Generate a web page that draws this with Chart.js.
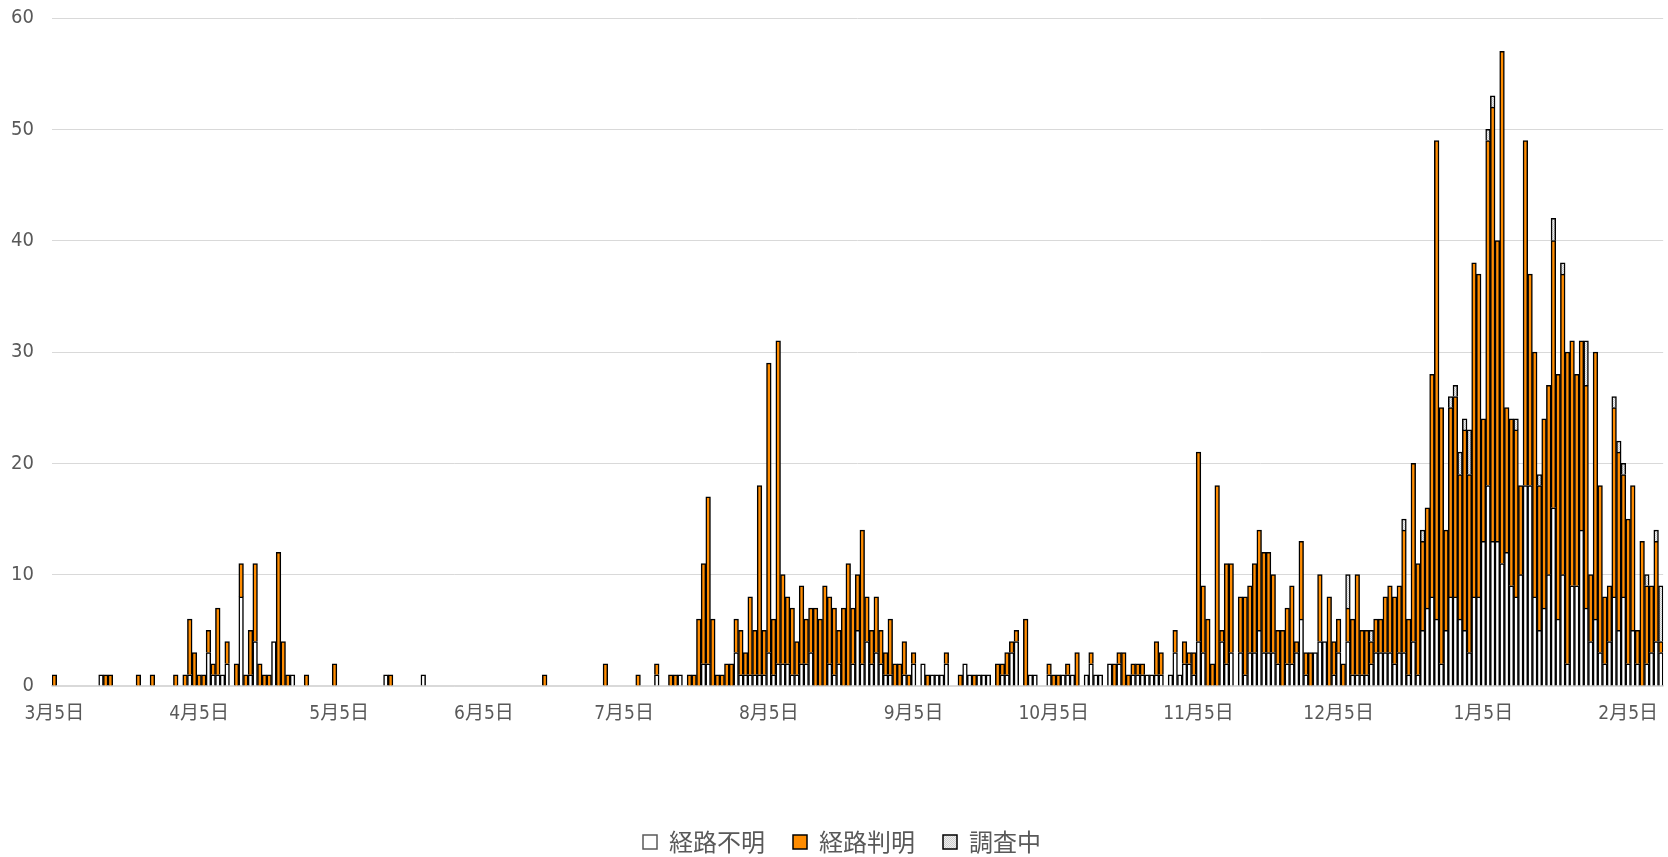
<!DOCTYPE html>
<html lang="ja">
<head>
<meta charset="utf-8">
<title>感染経路別 新規陽性者数</title>
<script src="https://cdn.jsdelivr.net/npm/chart.js@4.4.1/dist/chart.umd.min.js"></script>
<style>
  html, body { margin: 0; padding: 0; background: #fff; overflow: hidden; }
  #wrap { position: relative; width: 1668px; height: 864px; }
</style>
</head>
<body>
<div id="wrap"><canvas id="casesChart"></canvas></div>
<script>
// first day on the axis; one bar per day from here
const startYear = 2020, startMonth = 3, startDay = 5;

// 経路不明 (white, bottom of stack) - one row per month, Mar 5 .. Feb 12
const unknownCases = [
  0,0,0,0,0,0,0,0,0,0,1,0,0,0,0,0,0,0,0,0,0,0,0,0,0,0,0,                   // Mar 5-31
  0,0,1,0,0,0,3,1,1,1,2,0,0,8,0,1,4,0,0,0,4,0,0,0,1,0,0,0,0,0,             // Apr
  0,0,0,0,0,0,0,0,0,0,0,0,0,0,1,0,0,0,0,0,0,0,1,0,0,0,0,0,0,0,0,           // May
  0,0,0,0,0,0,0,0,0,0,0,0,0,0,0,0,0,0,0,0,0,0,0,0,0,0,0,0,0,0,             // Jun
  0,0,0,0,0,0,0,0,0,0,0,1,0,0,0,0,1,0,0,0,0,2,2,0,0,0,0,0,3,1,1,           // Jul
  1,1,1,1,3,1,2,2,2,1,1,2,2,3,0,0,0,2,1,2,0,0,2,5,2,4,2,3,2,1,1,           // Aug
  0,0,1,0,2,0,2,0,1,1,1,2,0,0,0,2,1,0,1,1,1,0,0,1,1,3,4,0,0,1,             // Sep
  1,0,0,1,0,0,1,1,1,0,0,1,2,1,1,0,2,0,2,0,0,1,1,1,1,1,1,1,0,1,3,           // Oct
  1,2,2,1,4,3,0,0,0,4,2,3,0,3,1,3,3,5,3,3,3,2,0,2,2,3,6,1,0,3,             // Nov
  4,4,0,1,3,0,4,1,1,1,1,2,3,3,3,3,2,3,3,1,4,1,5,7,8,6,2,5,8,8,6,           // Dec
  5,3,8,8,13,18,13,13,11,12,9,8,10,18,18,8,5,7,10,16,6,10,2,9,9,14,7,4,6,3,2, // Jan
  4,8,5,8,2,5,2,0,2,3,4,3                                                  // Feb 1-12
];

// 経路判明 (orange)
const linkedCases = [
  1,0,0,0,0,0,0,0,0,0,0,1,1,0,0,0,0,0,1,0,0,1,0,0,0,0,1,
  0,1,5,3,1,1,2,1,6,0,2,0,2,3,1,4,7,2,1,1,0,12,4,1,0,0,0,1,0,0,
  0,0,0,2,0,0,0,0,0,0,0,0,0,0,0,1,0,0,0,0,0,0,0,0,0,0,0,0,0,0,0,
  0,0,0,0,0,0,0,0,0,0,0,0,0,0,0,0,0,1,0,0,0,0,0,0,0,0,0,0,0,0,
  2,0,0,0,0,0,0,1,0,0,0,1,0,0,1,1,0,0,1,1,6,9,15,6,1,1,2,2,3,4,2,
  7,4,17,4,26,5,29,8,6,6,3,7,4,4,7,6,9,6,6,3,7,11,5,5,12,4,3,5,3,2,5,
  2,2,3,1,1,0,0,1,0,0,0,1,0,0,1,0,0,1,0,0,0,0,2,1,2,1,1,0,6,0,
  0,0,0,1,1,1,0,1,0,3,0,0,1,0,0,0,0,2,1,3,1,1,1,1,0,0,3,2,0,0,2,
  0,2,1,2,17,6,6,2,18,1,9,8,0,5,7,6,8,9,9,9,7,3,5,5,7,1,7,2,3,0,
  6,0,8,3,3,2,3,5,9,4,4,2,3,3,5,6,6,6,11,5,16,10,8,9,20,43,23,9,17,18,13,
  18,16,30,29,11,31,39,27,46,13,15,15,8,31,19,22,13,17,17,24,22,27,28,22,19,17,20,6,24,15,6,
  5,17,16,11,13,13,3,13,7,6,9,1
];

// 調査中 (light grey, top of stack)
const pendingCases = [
  0,0,0,0,0,0,0,0,0,0,0,0,0,0,0,0,0,0,0,0,0,0,0,0,0,0,0,
  0,0,0,0,0,0,0,0,0,0,0,0,0,0,0,0,0,0,0,0,0,0,0,0,0,0,0,0,0,0,
  0,0,0,0,0,0,0,0,0,0,0,0,0,0,0,0,0,0,0,0,0,0,0,0,0,0,0,0,0,0,0,
  0,0,0,0,0,0,0,0,0,0,0,0,0,0,0,0,0,0,0,0,0,0,0,0,0,0,0,0,0,0,
  0,0,0,0,0,0,0,0,0,0,0,0,0,0,0,0,0,0,0,0,0,0,0,0,0,0,0,0,0,0,0,
  0,0,0,0,0,0,0,0,0,0,0,0,0,0,0,0,0,0,0,0,0,0,0,0,0,0,0,0,0,0,0,
  0,0,0,0,0,0,0,0,0,0,0,0,0,0,0,0,0,0,0,0,0,0,0,0,0,0,0,0,0,0,
  0,0,0,0,0,0,0,0,0,0,0,0,0,0,0,0,0,0,0,0,0,0,0,0,0,0,0,0,0,0,0,
  0,0,0,0,0,0,0,0,0,0,0,0,0,0,0,0,0,0,0,0,0,0,0,0,0,0,0,0,0,0,
  0,0,0,0,0,0,3,0,0,0,0,1,0,0,0,0,0,0,1,0,0,0,1,0,0,0,0,0,1,1,2,
  1,4,0,0,0,1,1,0,0,0,0,1,0,0,0,0,1,0,0,2,0,1,0,0,0,0,4,0,0,0,0,
  0,1,1,1,0,0,0,0,1,0,1,5
];

const seriesNames = ["経路不明", "経路判明", "調査中"];
const yTicksMax = 60;
const yTicksStep = 10;

// daily labels like "3月5日"
const dayLabels = [];
for (let i = 0; i < unknownCases.length; i++) {
  const d = new Date(startYear, startMonth - 1, startDay + i);
  dayLabels.push(`${d.getMonth() + 1}月${d.getDate()}日`);
}
const isTickDay = (idx) => (dayLabels[idx] || "").endsWith("月5日");

// zero days have no bar at all
const toBars = (arr) => arr.map((v) => (v === 0 ? null : v));

// light checkered fill for 調査中
const makePattern = () => {
  const c = document.createElement("canvas");
  c.width = 2; c.height = 2;
  const g = c.getContext("2d");
  g.fillStyle = "#f0f0f0"; g.fillRect(0, 0, 2, 2);
  g.fillStyle = "#cdcdcd"; g.fillRect(0, 0, 1, 1); g.fillRect(1, 1, 1, 1);
  return g.createPattern(c, "repeat");
};

// y labels: use the whole left margin and sit 18px off the plot
// (ticks.padding would also push the plot top down, so move the axis box instead)
const yLabelRoom = {
  id: "yLabelRoom",
  afterLayout(chart) {
    const y = chart.scales.y;
    y.left = 0;
    y.right = chart.chartArea.left - 18;
  }
};

Chart.defaults.font.family = "'Liberation Sans Narrow', 'DejaVu Sans Condensed', 'Noto Sans CJK JP', sans-serif";
Chart.defaults.color = "#595959";

const barStyle = { borderColor: "#000", borderWidth: 1.5, barPercentage: 1, categoryPercentage: 1, stack: "cases" };

const casesChart = new Chart(document.getElementById("casesChart"), {
  type: "bar",
  data: {
    labels: dayLabels,
    datasets: [
      { label: seriesNames[0], data: toBars(unknownCases), backgroundColor: "#ffffff", ...barStyle },
      { label: seriesNames[1], data: toBars(linkedCases), backgroundColor: "#ff8c00", ...barStyle },
      { label: seriesNames[2], data: toBars(pendingCases), backgroundColor: makePattern(), ...barStyle }
    ]
  },
  plugins: [yLabelRoom],
  options: {
    responsive: true,
    maintainAspectRatio: false,
    animation: false,
    layout: { padding: { top: 18, left: 16, right: 0, bottom: 0 } },
    scales: {
      x: {
        stacked: true,
        offset: true,
        border: { display: true, color: "#d9d9d9", width: 1.5 },
        grid: {
          offset: true,
          drawOnChartArea: false,
          drawTicks: true,
          tickLength: 7,
          // only the 5th of each month gets a tick mark
          color: (ctx) => (isTickDay(ctx.index) ? "#d9d9d9" : "rgba(0,0,0,0)")
        },
        ticks: {
          autoSkip: false,
          maxRotation: 0,
          minRotation: 0,
          padding: 10,
          font: { size: 19 },
          callback: function (value) {
            return isTickDay(value) ? this.getLabelForValue(value) : null;
          }
        },
        afterFit: (scale) => { scale.height = 116; }
      },
      y: {
        stacked: true,
        min: 0,
        max: yTicksMax,
        border: { display: false },
        grid: { color: "#d9d9d9", drawTicks: false },
        ticks: { stepSize: yTicksStep, padding: 0, font: { size: 20 } },
        afterFit: (scale) => { scale.width = 36; }
      }
    },
    plugins: {
      legend: {
        position: "bottom",
        labels: {
          boxWidth: 14,
          boxHeight: 14,
          padding: 28,
          font: { size: 24, family: "'Noto Sans CJK JP', sans-serif" },
          generateLabels: (chart) => {
            const items = Chart.defaults.plugins.legend.labels.generateLabels(chart);
            items.forEach((it, i) => {
              it.lineWidth = 1.5;
              if (i === 0) it.strokeStyle = "#595959";
            });
            return items;
          }
        }
      },
      tooltip: { enabled: true }
    }
  }
});
</script>
</body>
</html>
